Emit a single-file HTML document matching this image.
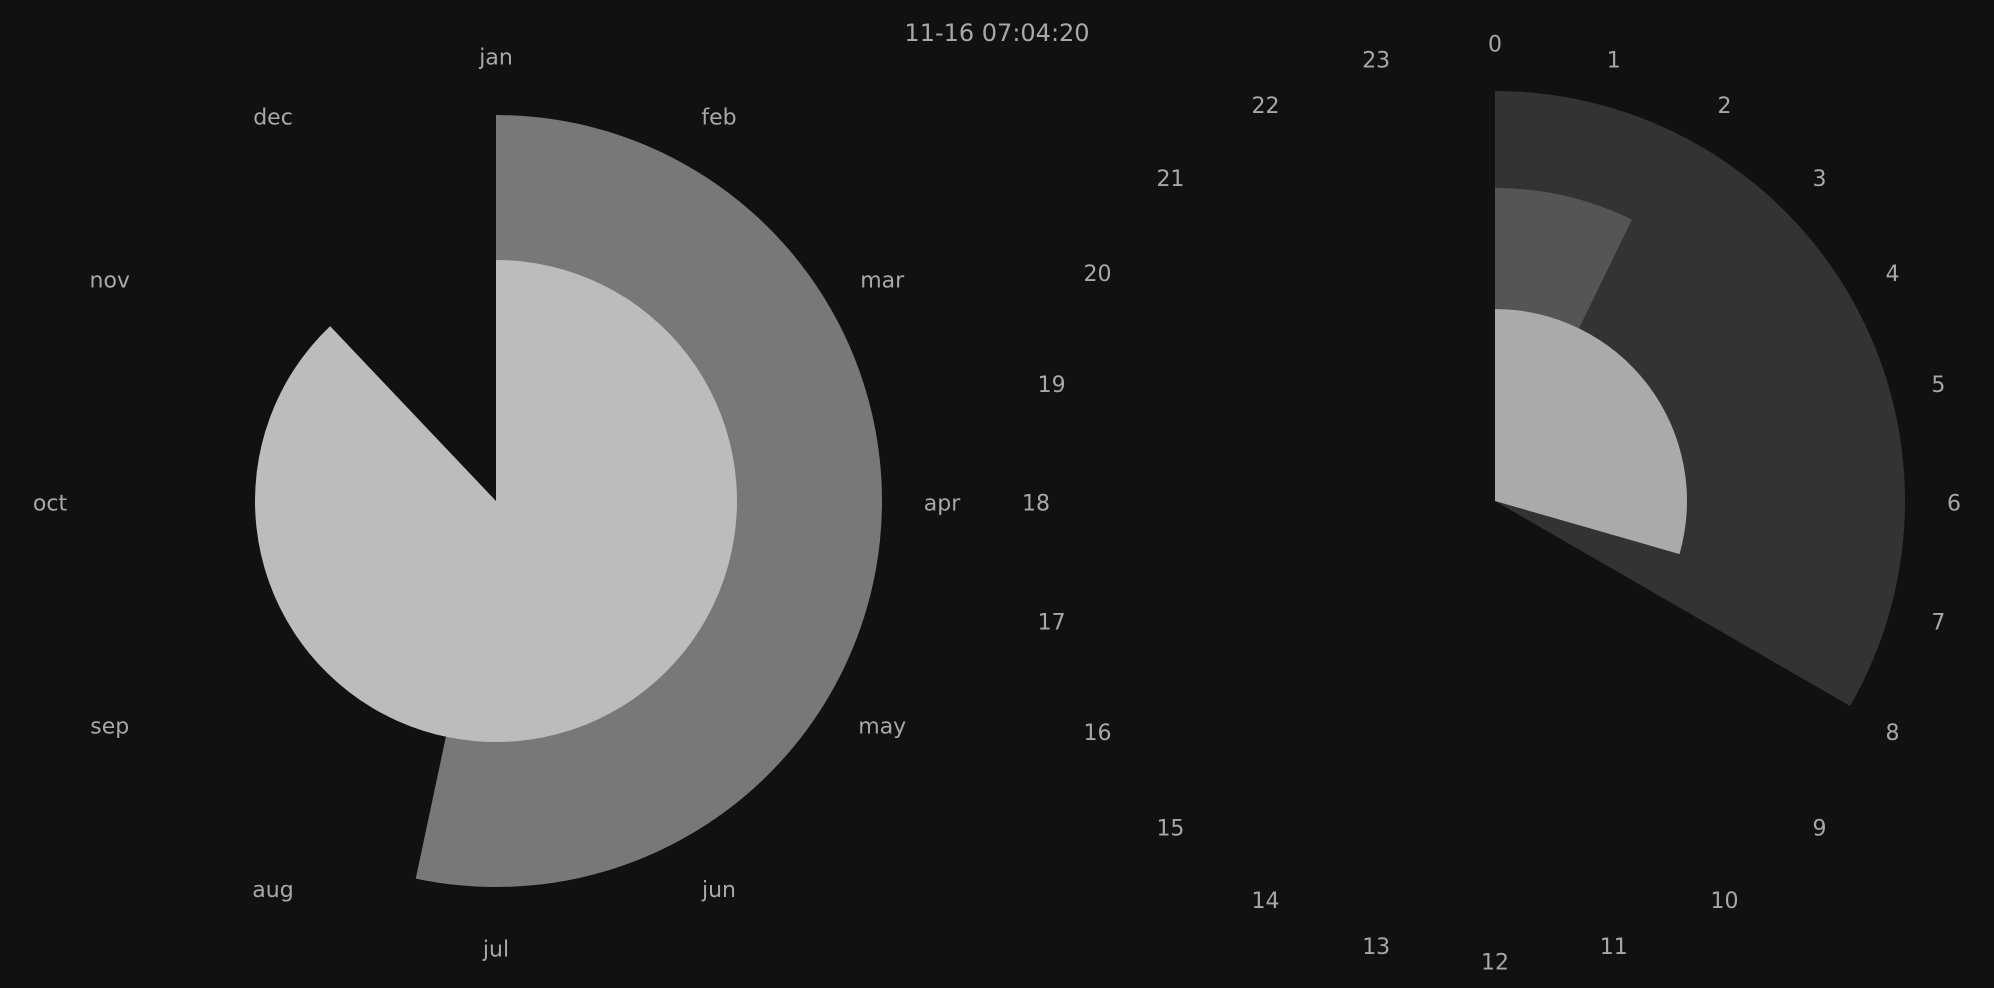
<!DOCTYPE html>
<html><head><meta charset="utf-8"><style>
html,body{margin:0;padding:0;background:#111;}
svg{display:block;}
text{font-family:"DejaVu Sans","Liberation Sans",sans-serif;fill:#a8a8a8;}
</style></head><body>
<svg id="chart" width="1994" height="988" viewBox="0 0 1994 988">
<rect width="1994" height="988" fill="#111"/>
<text x="997" y="41" font-size="24" text-anchor="middle">11-16 07:04:20</text>
<g id="left"></g>
<g id="right"></g>
</svg>
<script>
const monthLabels=["jan","feb","mar","apr","may","jun","jul","aug","sep","oct","nov","dec"];
const monthValues=[6.4,10.55];          // months elapsed: outer ring, inner disk
const monthColors=["#787878","#bcbcbc"];
const monthRadii=[386,241];
const hourLabels=["0","1","2","3","4","5","6","7","8","9","10","11","12","13","14","15","16","17","18","19","20","21","22","23"];
const hourValues=[8.0,1.73,7.07];      // hours: outer, middle, inner
const hourColors=["#333333","#555555","#aaaaaa"];
const hourRadii=[410,313,192];
const NS="http://www.w3.org/2000/svg";
function pt(cx,cy,r,a){return [cx+r*Math.sin(a),cy-r*Math.cos(a)];}
function wedge(cx,cy,r,frac){
  const a=frac*2*Math.PI;
  const [x1,y1]=pt(cx,cy,r,0),[x2,y2]=pt(cx,cy,r,a);
  const large=frac>0.5?1:0;
  return `M${cx},${cy}L${x1},${y1}A${r},${r} 0 ${large} 1 ${x2},${y2}Z`;
}
function draw(gid,cx,cy,labels,values,colors,radii,total,lr,fs,prefix){
  const g=document.getElementById(gid);
  labels.forEach((l,i)=>{
    const [x,y]=pt(cx,cy,lr,i/labels.length*2*Math.PI);
    const t=document.createElementNS(NS,"text");
    t.setAttribute("x",x);t.setAttribute("y",y+fs*0.35+2);
    t.setAttribute("font-size",fs);t.setAttribute("text-anchor","middle");
    t.textContent=l;
    
    
    g.appendChild(t);
  });
  values.forEach((v,i)=>{
    const p=document.createElementNS(NS,"path");
    p.setAttribute("d",wedge(cx,cy,radii[i],v/total));
    p.setAttribute("fill",colors[i]);
    
    
    g.appendChild(p);
  });
}
draw("left",496,501,monthLabels,monthValues,monthColors,monthRadii,12,446,22,"month");
draw("right",1495,501,hourLabels,hourValues,hourColors,hourRadii,24,459,22,"hour");
</script>
</body></html>
